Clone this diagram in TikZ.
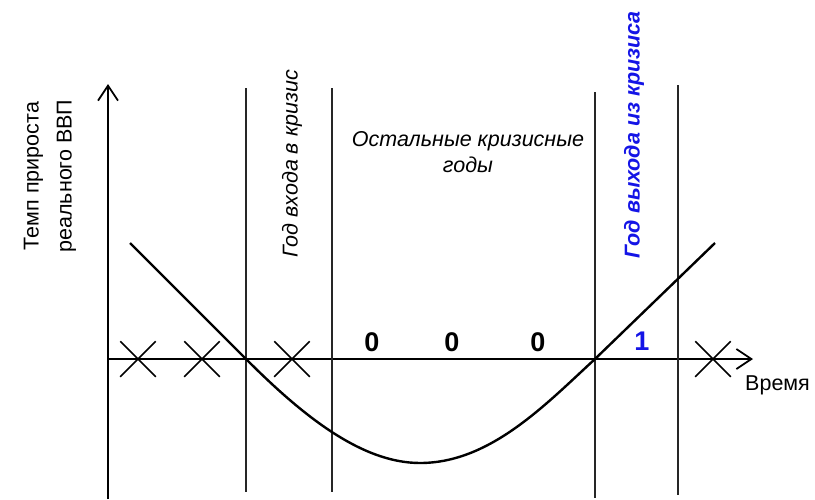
\documentclass[tikz,border=0pt]{standalone}
\usepackage{fontspec}
\setmainfont{Liberation Sans}
\usetikzlibrary{arrows.meta,shapes.misc}
\definecolor{lblue}{RGB}{20,20,230}
\begin{document}
\begin{tikzpicture}[x=1pt,y=-1pt,
  axis/.style={line width=2pt,-{Straight Barb[length=15pt,width=20pt,line width=1.8pt]}},
  vline/.style={line width=1.3pt,black!85},
  curve/.style={line width=2.4pt},
  xmark/.style={cross out,draw,line width=1.5pt,minimum width=34pt,minimum height=34pt,inner sep=0pt},
  lbl/.style={font=\fontsize{21.5}{26}\selectfont,inner sep=0pt},
  digit/.style={font=\fontsize{27}{30}\selectfont\bfseries,inner sep=0pt}]
\useasboundingbox (0,0) rectangle (815,499);
% axes
\coordinate (yb) at (108,499);
\coordinate (yt) at (108,84);
\coordinate (xl) at (108,359);
\coordinate (xr) at (753,359);
\draw[axis] (yb) -- (yt);
\draw[axis] (xl) -- (xr);
% vertical separators
\coordinate (v1t) at (246,88); \coordinate (v1b) at (246,492);
\coordinate (v2t) at (332,88); \coordinate (v2b) at (332,492);
\coordinate (v3t) at (595,92); \coordinate (v3b) at (595,498);
\coordinate (v4t) at (678,85); \coordinate (v4b) at (678,495);
\draw[vline] (v1t) -- (v1b);
\draw[vline] (v2t) -- (v2b);
\draw[vline] (v3t) -- (v3b);
\draw[vline] (v4t) -- (v4b);
% curve
\draw[curve] (130,243) -- (246,359) .. controls (300,413) and (360,463) .. (420,463)
  .. controls (490,463) and (545,405) .. (595,359) -- (715,243);
% crosses
\node[xmark] (c1) at (138,359) {};
\node[xmark] (c2) at (202,359) {};
\node[xmark] (c3) at (292,359) {};
\node[xmark] (c4) at (713,359) {};
% digits
\node[digit] (z1) at (372,342) {0};
\node[digit] (z2) at (452,342) {0};
\node[digit] (z3) at (538,342) {0};
\node[digit,text=lblue] (one) at (642,341) {1};
% labels
\node[lbl,anchor=north west] (time) at (745,376) {Время};
\node[lbl,rotate=90,align=center,font=\fontsize{21.5}{33}\selectfont] (ylab) at (50,176) {Темп прироста\\реального ВВП};
\node[lbl,rotate=90,font=\fontsize{21.5}{26}\selectfont\itshape] (entry) at (292,164) {Год входа в кризис};
\node[lbl,align=center,font=\fontsize{21.5}{26}\selectfont\itshape] (rest) at (468,152) {Остальные кризисные\\годы};
\node[lbl,rotate=90,text=lblue,font=\fontsize{21.5}{26}\selectfont\bfseries\itshape] (exit) at (634,135) {Год выхода из кризиса};
\end{tikzpicture}
\end{document}
